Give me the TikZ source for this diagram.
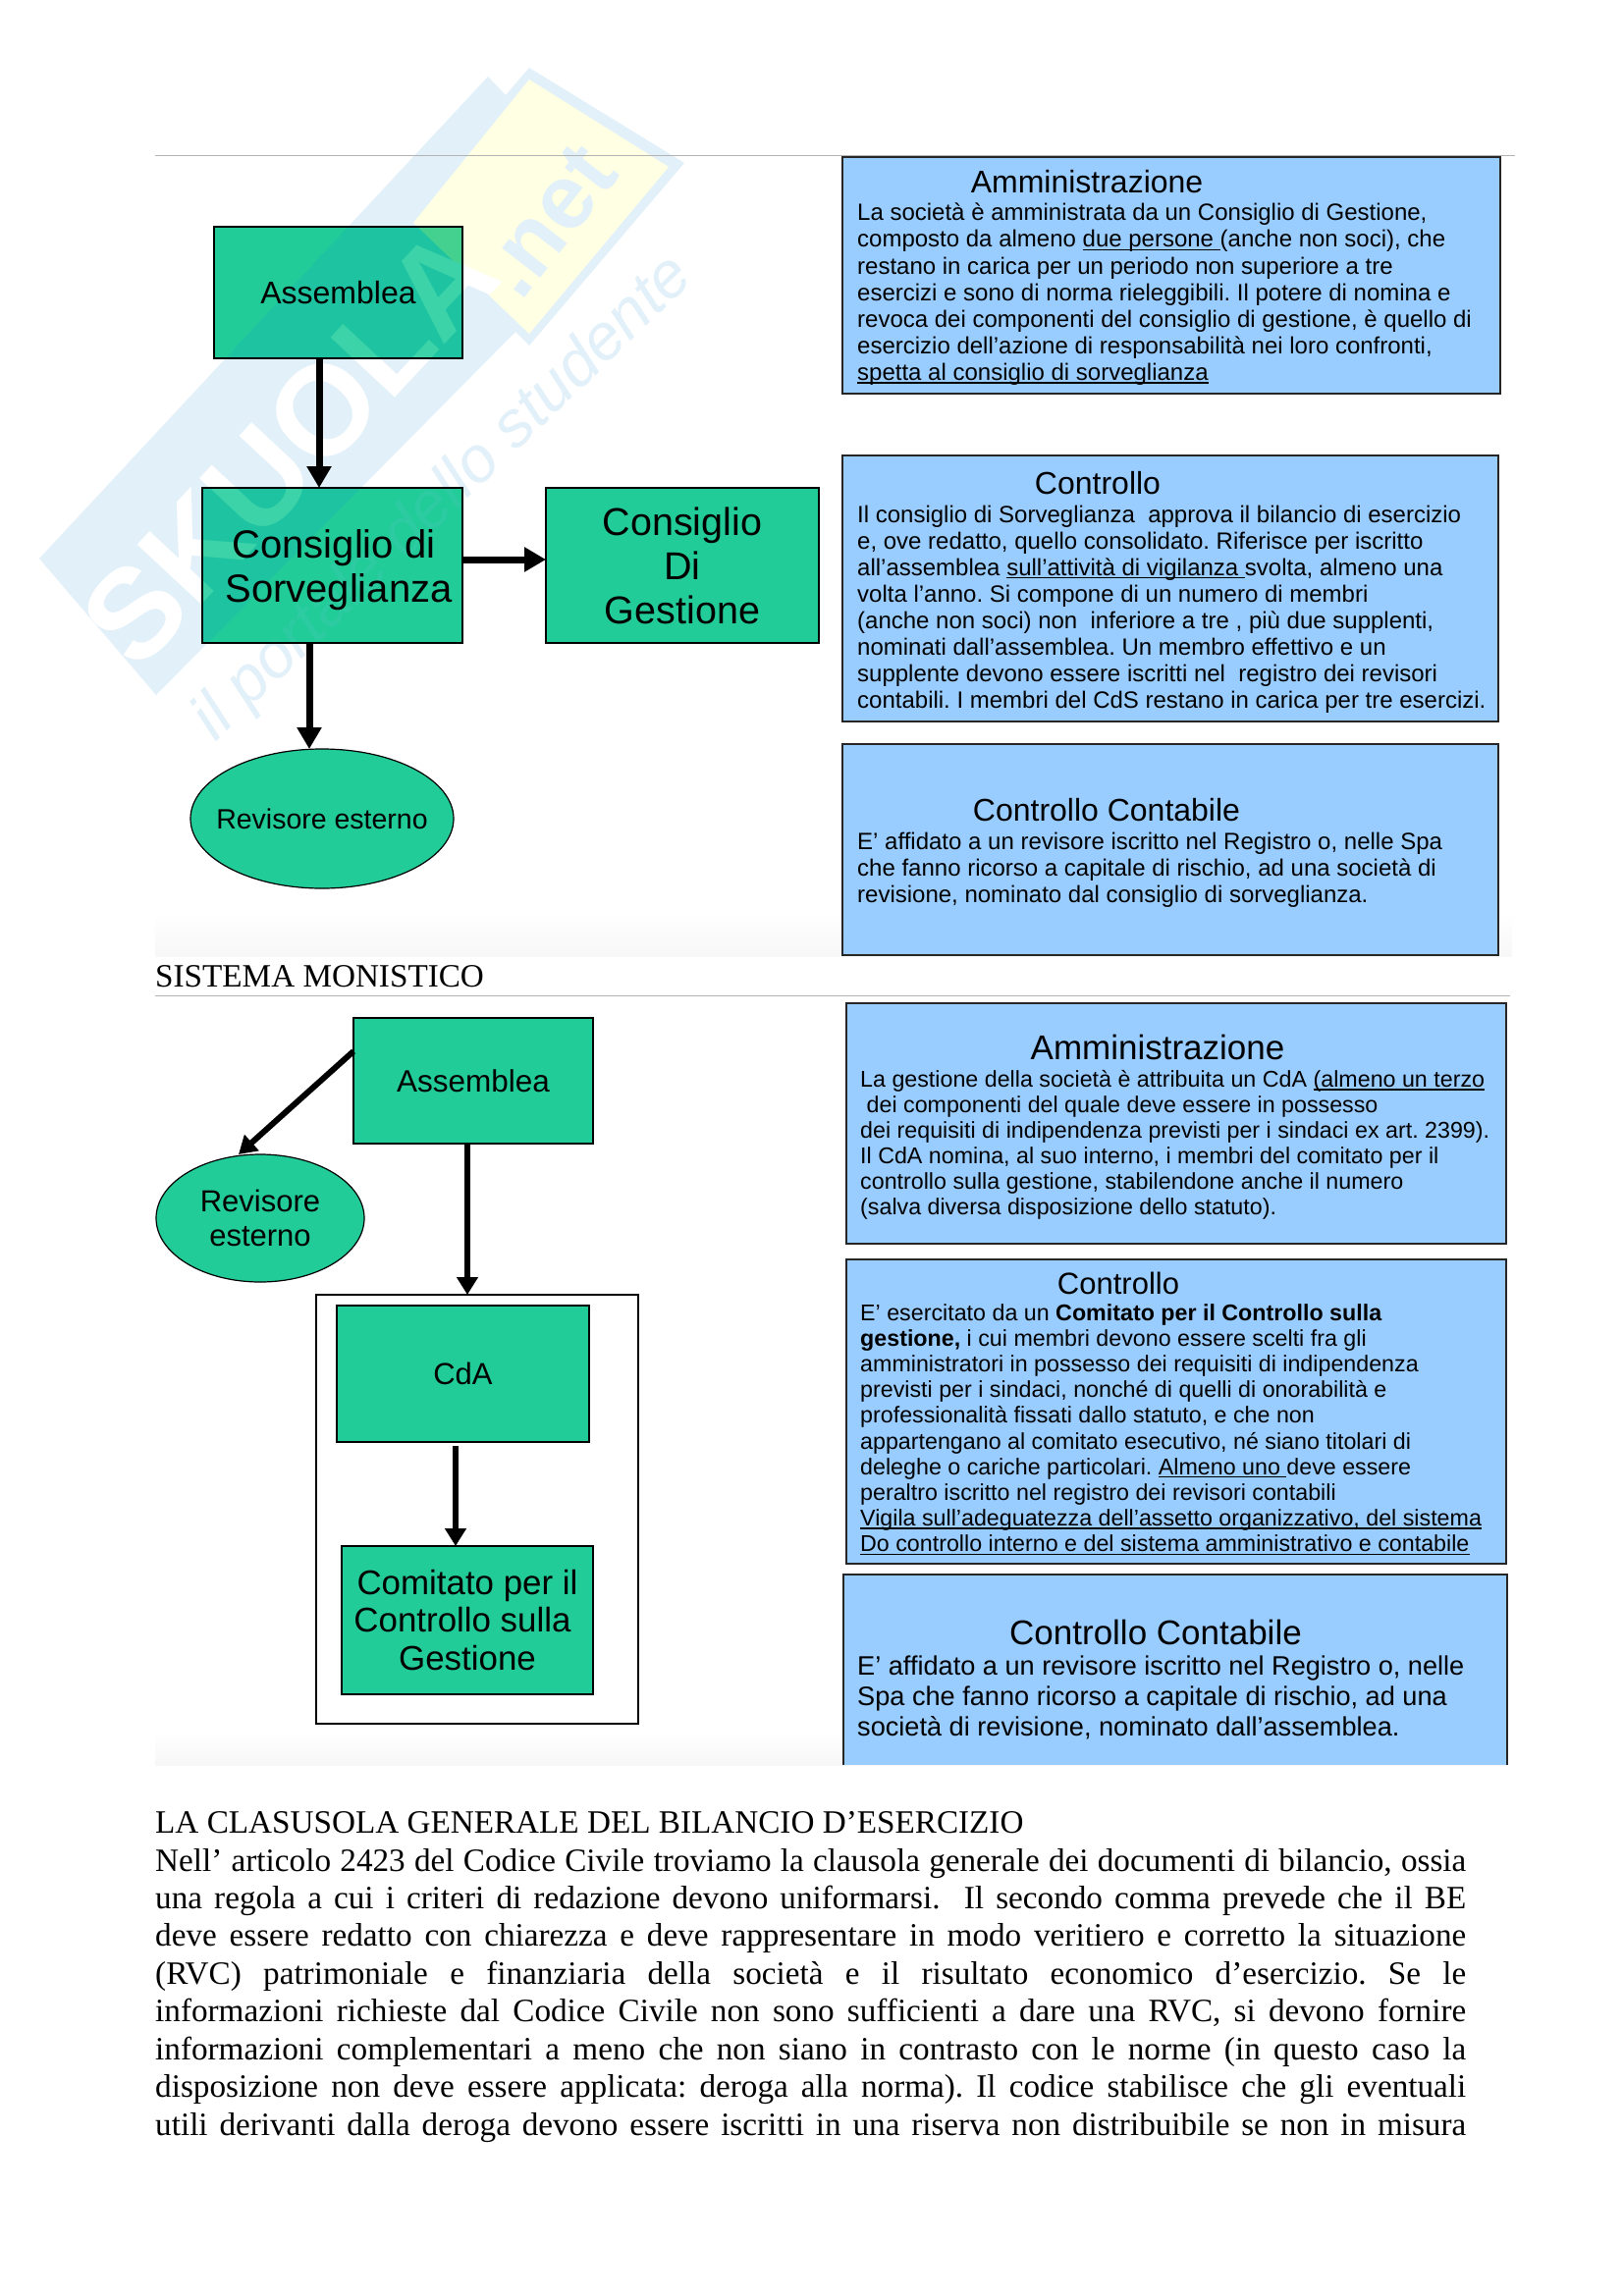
\documentclass[tikz,border=0pt]{standalone}
\usepackage{fontspec}
\setmainfont{Liberation Serif}
\setsansfont{Liberation Sans}
\usetikzlibrary{arrows.meta,shapes.geometric}
\AtBeginDocument{\frenchspacing}
\definecolor{gboxc}{HTML}{22CC99}
\definecolor{bboxc}{HTML}{99CCFF}
\definecolor{wmblue}{HTML}{E2F0F9}
\definecolor{wmyellow}{HTML}{FFFFE3}
\definecolor{wgband}{HTML}{1EC3A2}
\definecolor{wgyell}{HTML}{44D08E}
\definecolor{wglett}{HTML}{3CD3A8}
\definecolor{wgscr}{HTML}{2CCBA2}
\newcommand{\szf}[2]{\sffamily\fontsize{#1}{#2}\selectfont}
\newcommand{\uline}[1]{\setbox0=\hbox{#1}\rlap{\rule[-3.2pt]{\wd0}{1.4pt}}\box0 }
% watermark: band colour, yellow colour, letter colour, script colour, .net colour, name suffix
\newcommand{\wmark}[6]{%
  \fill[#1] (40,569) -- (497,78) -- (515,97) -- (539,69) -- (697,166) -- (539,352) -- (525,338) -- (159,708) -- cycle;
  \fill[#2] (539,81) -- (681,170) -- (539,340) -- (421,227) -- cycle;
  \node[rotate=47,inner sep=0,text=#3,font=\sffamily\bfseries\fontsize{130}{130}\selectfont] (wmA#6) at (295,455) {SKUOLA};
  \node[rotate=52,inner sep=0,text=#5,font=\sffamily\bfseries\fontsize{93}{93}\selectfont] (wmB#6) at (558,225) {.net};
  \node[rotate=44,inner sep=0,text=#4,font=\sffamily\itshape\fontsize{66}{66}\selectfont] (wmC#6) at (452,508) {il portale dello studente};
}
\tikzset{
  gbox/.style={rectangle,draw=black,line width=1.6pt,inner sep=0,outer sep=0,align=center},
  oval/.style={ellipse,draw=black,line width=1.2pt,fill=gboxc,inner sep=0,outer sep=0},
  bbox/.style={rectangle,draw=black!85,line width=1.6pt,fill=bboxc,inner sep=0,outer sep=0},
  txt/.style={anchor=north west,inner sep=0,align=left},
  ttl/.style={anchor=center,inner sep=0,align=center},
  para/.style={anchor=base west,inner sep=0,font=\rmfamily\fontsize{33.2}{38}\selectfont},
  arr/.style={line width=7pt,-{Triangle[width=24pt,length=22pt]},black},
  arrs/.style={line width=6pt,-{Triangle[width=21pt,length=18pt]},black},
  hair/.style={line width=1pt,color=black!30},
}
\begin{document}
\begin{tikzpicture}[x=1pt,y=-1pt]
\useasboundingbox (0,0) rectangle (1653,2339);
\fill[white] (0,0) rectangle (1653,2339);
% faint strips under the pasted pictures
\shade[top color=white,bottom color=black!3,draw=none] (158,930) rectangle (1540,974);
\shade[top color=white,bottom color=black!3,draw=none] (158,1765) rectangle (1535,1798);
\wmark{wmblue}{wmyellow}{white}{wmblue}{wmblue}{p}
\draw[hair] (158,158) -- (1543,158);
\draw[hair] (158,1014) -- (1538,1014);
% --- first diagram ---
\fill[gboxc] (218,231) rectangle (471,365);
\fill[gboxc] (206,497) rectangle (471,655);
\begin{scope}
\clip (218,231) rectangle (471,365) (206,497) rectangle (471,655);
\wmark{wgband}{wgyell}{wglett}{wgscr}{wglett}{g}
\end{scope}
\node[gbox,minimum width=253pt,minimum height=134pt,font=\szf{32}{38}] (asm1) at (344.5,298) {Assemblea};
\node[gbox,minimum width=265pt,minimum height=158pt] (cs) at (338.5,576) {};
\node[ttl,font=\szf{40}{45}] (cst) at (345,580.5) {\hspace*{-10pt}Consiglio di\\Sorveglianza};
\node[gbox,fill=gboxc,minimum width=278pt,minimum height=158pt,font=\szf{39.5}{45}] (cg) at (695,576) {Consiglio\\Di\\Gestione};
\node[oval,minimum width=268pt,minimum height=142pt] (rev1) at (328,834) {};
\node[ttl,font=\szf{28.5}{34}] (rev1t) at (rev1.center) {Revisore esterno};
\coordinate (xa) at (325,0);
\coordinate (xb) at (315,0);
\coordinate (yc) at (0,570);
\draw[arr] (asm1.south -| xa) -- (cs.north -| xa);
\draw[arr] (cs.east |- yc) -- (cg.west |- yc);
\draw[arr] (cs.south -| xb) -- (rev1.north -| xb);
% right boxes, top
\node[bbox,minimum width=670pt,minimum height=241pt] (b1) at (1193,280.5) {};
\node[ttl,font=\szf{32}{38}] (b1t) at (1107,185) {Amministrazione};
\node[txt,font=\szf{24}{27.1}] (b1b) at (873,207) {La società è amministrata da un Consiglio di Gestione,\\
composto da almeno \uline{due persone\ }(anche non soci), che\\
restano in carica per un periodo non superiore a tre\\
esercizi e sono di norma rieleggibili. Il potere di nomina e\\
revoca dei componenti del consiglio di gestione, è quello di\\
esercizio dell’azione di responsabilità nei loro confronti,\\
\uline{spetta al consiglio di sorveglianza}};
\node[bbox,minimum width=668pt,minimum height=271pt] (b2) at (1192,599.5) {};
\node[ttl,font=\szf{32}{38}] (b2t) at (1118,492) {Controllo};
\node[txt,font=\szf{24}{27.1}] (b2b) at (873,514.5) {Il consiglio di Sorveglianza\ \ approva il bilancio di esercizio\\
e, ove redatto, quello consolidato. Riferisce per iscritto\\
all’assemblea \uline{sull’attività di vigilanza\ }svolta, almeno una\\
volta l’anno. Si compone di un numero di membri\\
(anche non soci) non\ \ inferiore a tre , più due supplenti,\\
nominati dall’assemblea. Un membro effettivo e un\\
supplente devono essere iscritti nel\ \ registro dei revisori\\
contabili. I membri del CdS restano in carica per tre esercizi.};
\node[bbox,minimum width=668pt,minimum height=215pt] (b3) at (1192,865.5) {};
\node[ttl,font=\szf{32}{38}] (b3t) at (1127,825) {Controllo Contabile};
\node[txt,font=\szf{24}{27.1}] (b3b) at (873,848) {E’ affidato a un revisore iscritto nel Registro o, nelle Spa\\
che fanno ricorso a capitale di rischio, ad una società di\\
revisione, nominato dal consiglio di sorveglianza.};
\node[para] (h1) at (158,1005) {SISTEMA MONISTICO};
% --- second diagram ---
\node[gbox,fill=gboxc,minimum width=244pt,minimum height=128pt,font=\szf{31.5}{36}] (asm2) at (482,1101) {Assemblea};
\node[oval,minimum width=212pt,minimum height=130pt] (rev2) at (265,1241) {};
\node[ttl,font=\szf{31}{34.5}] (rev2t) at (265,1241) {Revisore\\esterno};
\node[rectangle,draw=black,line width=1.8pt,inner sep=0,outer sep=0,minimum width=328pt,minimum height=437pt] (frame) at (486,1537.5) {};
\node[gbox,fill=gboxc,minimum width=257pt,minimum height=139pt,font=\szf{31}{36}] (cda) at (471.5,1399.5) {CdA};
\node[gbox,fill=gboxc,minimum width=256pt,minimum height=151pt,font=\szf{34.9}{38.8}] (com) at (476,1650.5) {Comitato per il\\\hspace*{-10pt}Controllo sulla\\Gestione};
\coordinate (xd) at (476,0);
\coordinate (xe) at (464,0);
\coordinate (ye) at (0,1071);
\coordinate (yf) at (0,1473);
\coordinate (xg) at (243,0);
\coordinate (yg) at (0,1176);
\draw[arrs] (asm2.west |- ye) -- (xg |- yg);
\draw[arrs] (asm2.south -| xd) -- (frame.north -| xd);
\draw[arrs] (xe |- yf) -- (com.north -| xe);
% right boxes, bottom
\node[bbox,minimum width=672pt,minimum height=245pt] (c1) at (1198,1144.5) {};
\node[ttl,font=\szf{35}{40}] (c1t) at (1179,1067) {Amministrazione};
\node[txt,font=\szf{23.25}{26}] (c1b) at (876,1090) {La gestione della società è attribuita un CdA \uline{(almeno un terzo}\\
\ dei componenti del quale deve essere in possesso\\
dei requisiti di indipendenza previsti per i sindaci ex art. 2399).\\
Il CdA nomina, al suo interno, i membri del comitato per il\\
controllo sulla gestione, stabilendone anche il numero\\
(salva diversa disposizione dello statuto).};
\node[bbox,minimum width=672pt,minimum height=310pt] (c2) at (1198,1438) {};
\node[ttl,font=\szf{31}{38}] (c2t) at (1139,1307) {Controllo};
\node[txt,font=\szf{23.25}{26.2}] (c2b) at (876,1328) {E’ esercitato da un \textbf{Comitato per il Controllo sulla}\\
\textbf{gestione,} i cui membri devono essere scelti fra gli\\
amministratori in possesso dei requisiti di indipendenza\\
previsti per i sindaci, nonché di quelli di onorabilità e\\
professionalità fissati dallo statuto, e che non\\
appartengano al comitato esecutivo, né siano titolari di\\
deleghe o cariche particolari. \uline{Almeno uno\ }deve essere\\
peraltro iscritto nel registro dei revisori contabili\\
\uline{Vigila sull’adeguatezza dell’assetto organizzativo, del sistema}\\
\uline{Do controllo interno e del sistema amministrativo e contabile}};
\node[rectangle,fill=bboxc,inner sep=0,outer sep=0,minimum width=676pt,minimum height=194pt] (c3) at (1197,1701) {};
\draw[line width=1.6pt,color=black!85] (c3.south west) -- (c3.north west) -- (c3.north east) -- (c3.south east);
\node[ttl,font=\szf{35}{40}] (c3t) at (1177,1663) {Controllo Contabile};
\node[txt,font=\szf{27.15}{31}] (c3b) at (873,1687) {E’ affidato a un revisore iscritto nel Registro o, nelle\\
Spa che fanno ricorso a capitale di rischio, ad una\\
società di revisione, nominato dall’assemblea.};
% --- text below ---
\node[para] (h2) at (158,1867) {LA CLASUSOLA GENERALE DEL BILANCIO D’ESERCIZIO};
\node[para] (l1) at (158,1906) {\hbox to 1335pt{Nell’ articolo 2423 del Codice Civile troviamo la clausola generale dei documenti di bilancio, ossia}};
\node[para] (l2) at (158,1944.4) {\hbox to 1335pt{una regola a cui i criteri di redazione devono uniformarsi.\ \ Il secondo comma prevede che il BE}};
\node[para] (l3) at (158,1982.8) {\hbox to 1335pt{deve essere redatto con chiarezza e deve rappresentare in modo veritiero e corretto la situazione}};
\node[para] (l4) at (158,2021.3) {\hbox to 1335pt{(RVC) patrimoniale e finanziaria della società e il risultato economico d’esercizio. Se le}};
\node[para] (l5) at (158,2059.7) {\hbox to 1335pt{informazioni richieste dal Codice Civile non sono sufficienti a dare una RVC, si devono fornire}};
\node[para] (l6) at (158,2098.2) {\hbox to 1335pt{informazioni complementari a meno che non siano in contrasto con le norme (in questo caso la}};
\node[para] (l7) at (158,2136.6) {\hbox to 1335pt{disposizione non deve essere applicata: deroga alla norma). Il codice stabilisce che gli eventuali}};
\node[para] (l8) at (158,2175) {\hbox to 1335pt{utili derivanti dalla deroga devono essere iscritti in una riserva non distribuibile se non in misura}};
\end{tikzpicture}
\end{document}
